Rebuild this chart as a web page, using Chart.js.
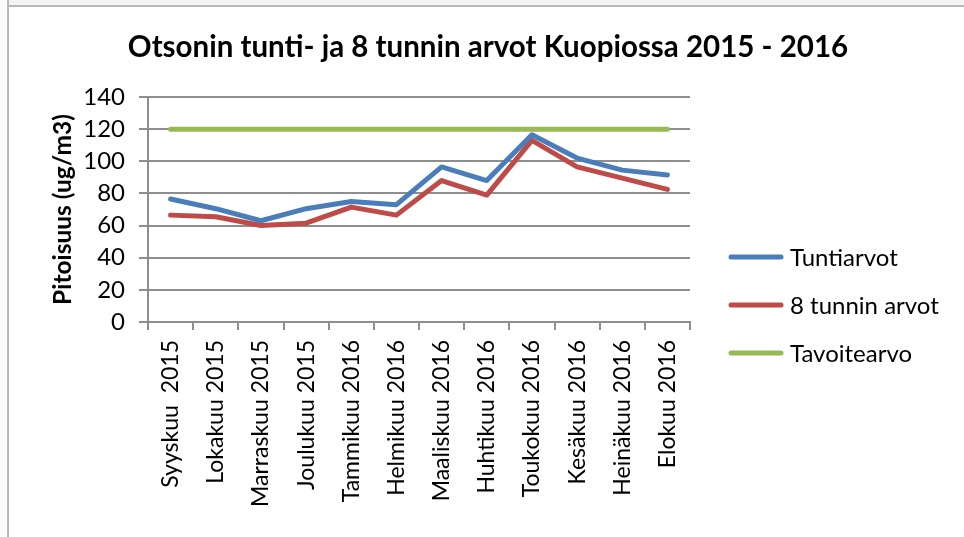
<!DOCTYPE html>
<html>
<head>
<meta charset="utf-8">
<script src="https://cdn.jsdelivr.net/npm/chart.js@4"></script>
<style>
  html, body { margin: 0; padding: 0; background: #fff; }
  #wrap { position: relative; width: 964px; height: 537px; overflow: hidden; }
  #topband { position: absolute; left: 0; top: 0; width: 964px; height: 5px; background: #f3f3f3; border-bottom: 2px solid #b8b8b8; }
  #leftband { position: absolute; left: 0; top: 0; width: 7px; height: 537px; background: #fbfbfb; border-right: 2px solid #b8b8b8; }
  canvas { position: absolute; left: 0; top: 0; }
</style>
</head>
<body>
<div id="wrap">
  <div id="topband"></div>
  <div id="leftband"></div>
  <canvas id="myChart" width="964" height="537"></canvas>
</div>
<script>
let months = [
  "Syyskuu  2015",
  "Lokakuu 2015",
  "Marraskuu 2015",
  "Joulukuu 2015",
  "Tammikuu 2016",
  "Helmikuu 2016",
  "Maaliskuu 2016",
  "Huhtikuu 2016",
  "Toukokuu 2016",
  "Kesäkuu 2016",
  "Heinäkuu 2016",
  "Elokuu 2016",
];
let tuntiarvot = [76.5, 70.5, 63, 70.5, 75, 73, 96.5, 88, 116.5, 102, 94.5, 91.5];
let kahdeksanTunnin = [66.5, 65.5, 60, 61.5, 71.5, 66.5, 88, 79, 113, 96.5, 89.5, 82.5];
let tavoitearvo = [120, 120, 120, 120, 120, 120, 120, 120, 120, 120, 120, 120];

let chartTitle = "Otsonin tunti- ja 8 tunnin arvot Kuopiossa 2015 - 2016";
let font = "Lato, 'Open Sans', sans-serif";
let gridColor = "#8e8e8e";

// title over the whole canvas + legend on the right, like the spreadsheet one
let sideLegend = {
  id: "sideLegend",
  afterDraw(chart) {
    let ctx = chart.ctx;
    ctx.save();
    ctx.fillStyle = "#000";
    ctx.font = "bold 29.5px " + font;
    ctx.textAlign = "center";
    ctx.textBaseline = "middle";
    ctx.fillText(chartTitle, 488, 47);

    ctx.textAlign = "left";
    chart.data.datasets.forEach((ds, i) => {
      let y = 257 + i * 48;
      ctx.strokeStyle = ds.borderColor;
      ctx.lineWidth = 5;
      ctx.lineCap = "round";
      ctx.beginPath();
      ctx.moveTo(731, y);
      ctx.lineTo(781, y);
      ctx.stroke();
      ctx.fillStyle = "#000";
      ctx.font = "24px " + font;
      ctx.fillText(ds.label, 790, y + 1);
    });
    ctx.restore();
  },
};

let myChart = document.getElementById("myChart").getContext("2d");
let otsoniChart = new Chart(myChart, {
  type: "line",
  data: {
    labels: months,
    datasets: [
      {
        label: "Tuntiarvot",
        data: tuntiarvot,
        borderColor: "#4a7ebb",
        backgroundColor: "#4a7ebb",
      },
      {
        label: "8 tunnin arvot",
        data: kahdeksanTunnin,
        borderColor: "#be4b48",
        backgroundColor: "#be4b48",
      },
      {
        label: "Tavoitearvo",
        data: tavoitearvo,
        borderColor: "#98b954",
        backgroundColor: "#98b954",
      },
    ],
  },
  options: {
    responsive: false,
    animation: false,
    elements: {
      line: { borderWidth: 5, tension: 0, borderCapStyle: "round", borderJoinStyle: "round" },
      point: { radius: 0, hoverRadius: 0 },
    },
    layout: {
      padding: { left: 38, right: 274, top: 97, bottom: 0 },
    },
    plugins: {
      legend: { display: false },
      tooltip: { enabled: false },
      title: { display: false },
    },
    scales: {
      x: {
        offset: true,
        afterFit(scale) { scale.height = 215; },
        grid: {
          offset: true,
          drawOnChartArea: false,
          drawTicks: true,
          tickLength: 8,
          color: gridColor,
          lineWidth: 2,
        },
        border: { color: gridColor, width: 2 },
        ticks: {
          autoSkip: false,
          maxRotation: 90,
          minRotation: 90,
          padding: 10,
          color: "#000",
          font: { family: font, size: 23 },
        },
      },
      y: {
        min: 0,
        max: 140,
        afterFit(scale) { scale.width = 148 - 38; },
        grid: {
          color: gridColor,
          lineWidth: 2,
          tickLength: 9,
        },
        border: { color: gridColor, width: 2 },
        ticks: {
          stepSize: 20,
          padding: 14,
          color: "#000",
          font: { family: font, size: 24 },
        },
        title: {
          display: true,
          text: "Pitoisuus (ug/m3)",
          color: "#000",
          font: { family: font, size: 24.5, weight: "bold" },
          padding: { top: 10, bottom: 0 },
        },
      },
    },
  },
  plugins: [sideLegend],
});
</script>
</body>
</html>
